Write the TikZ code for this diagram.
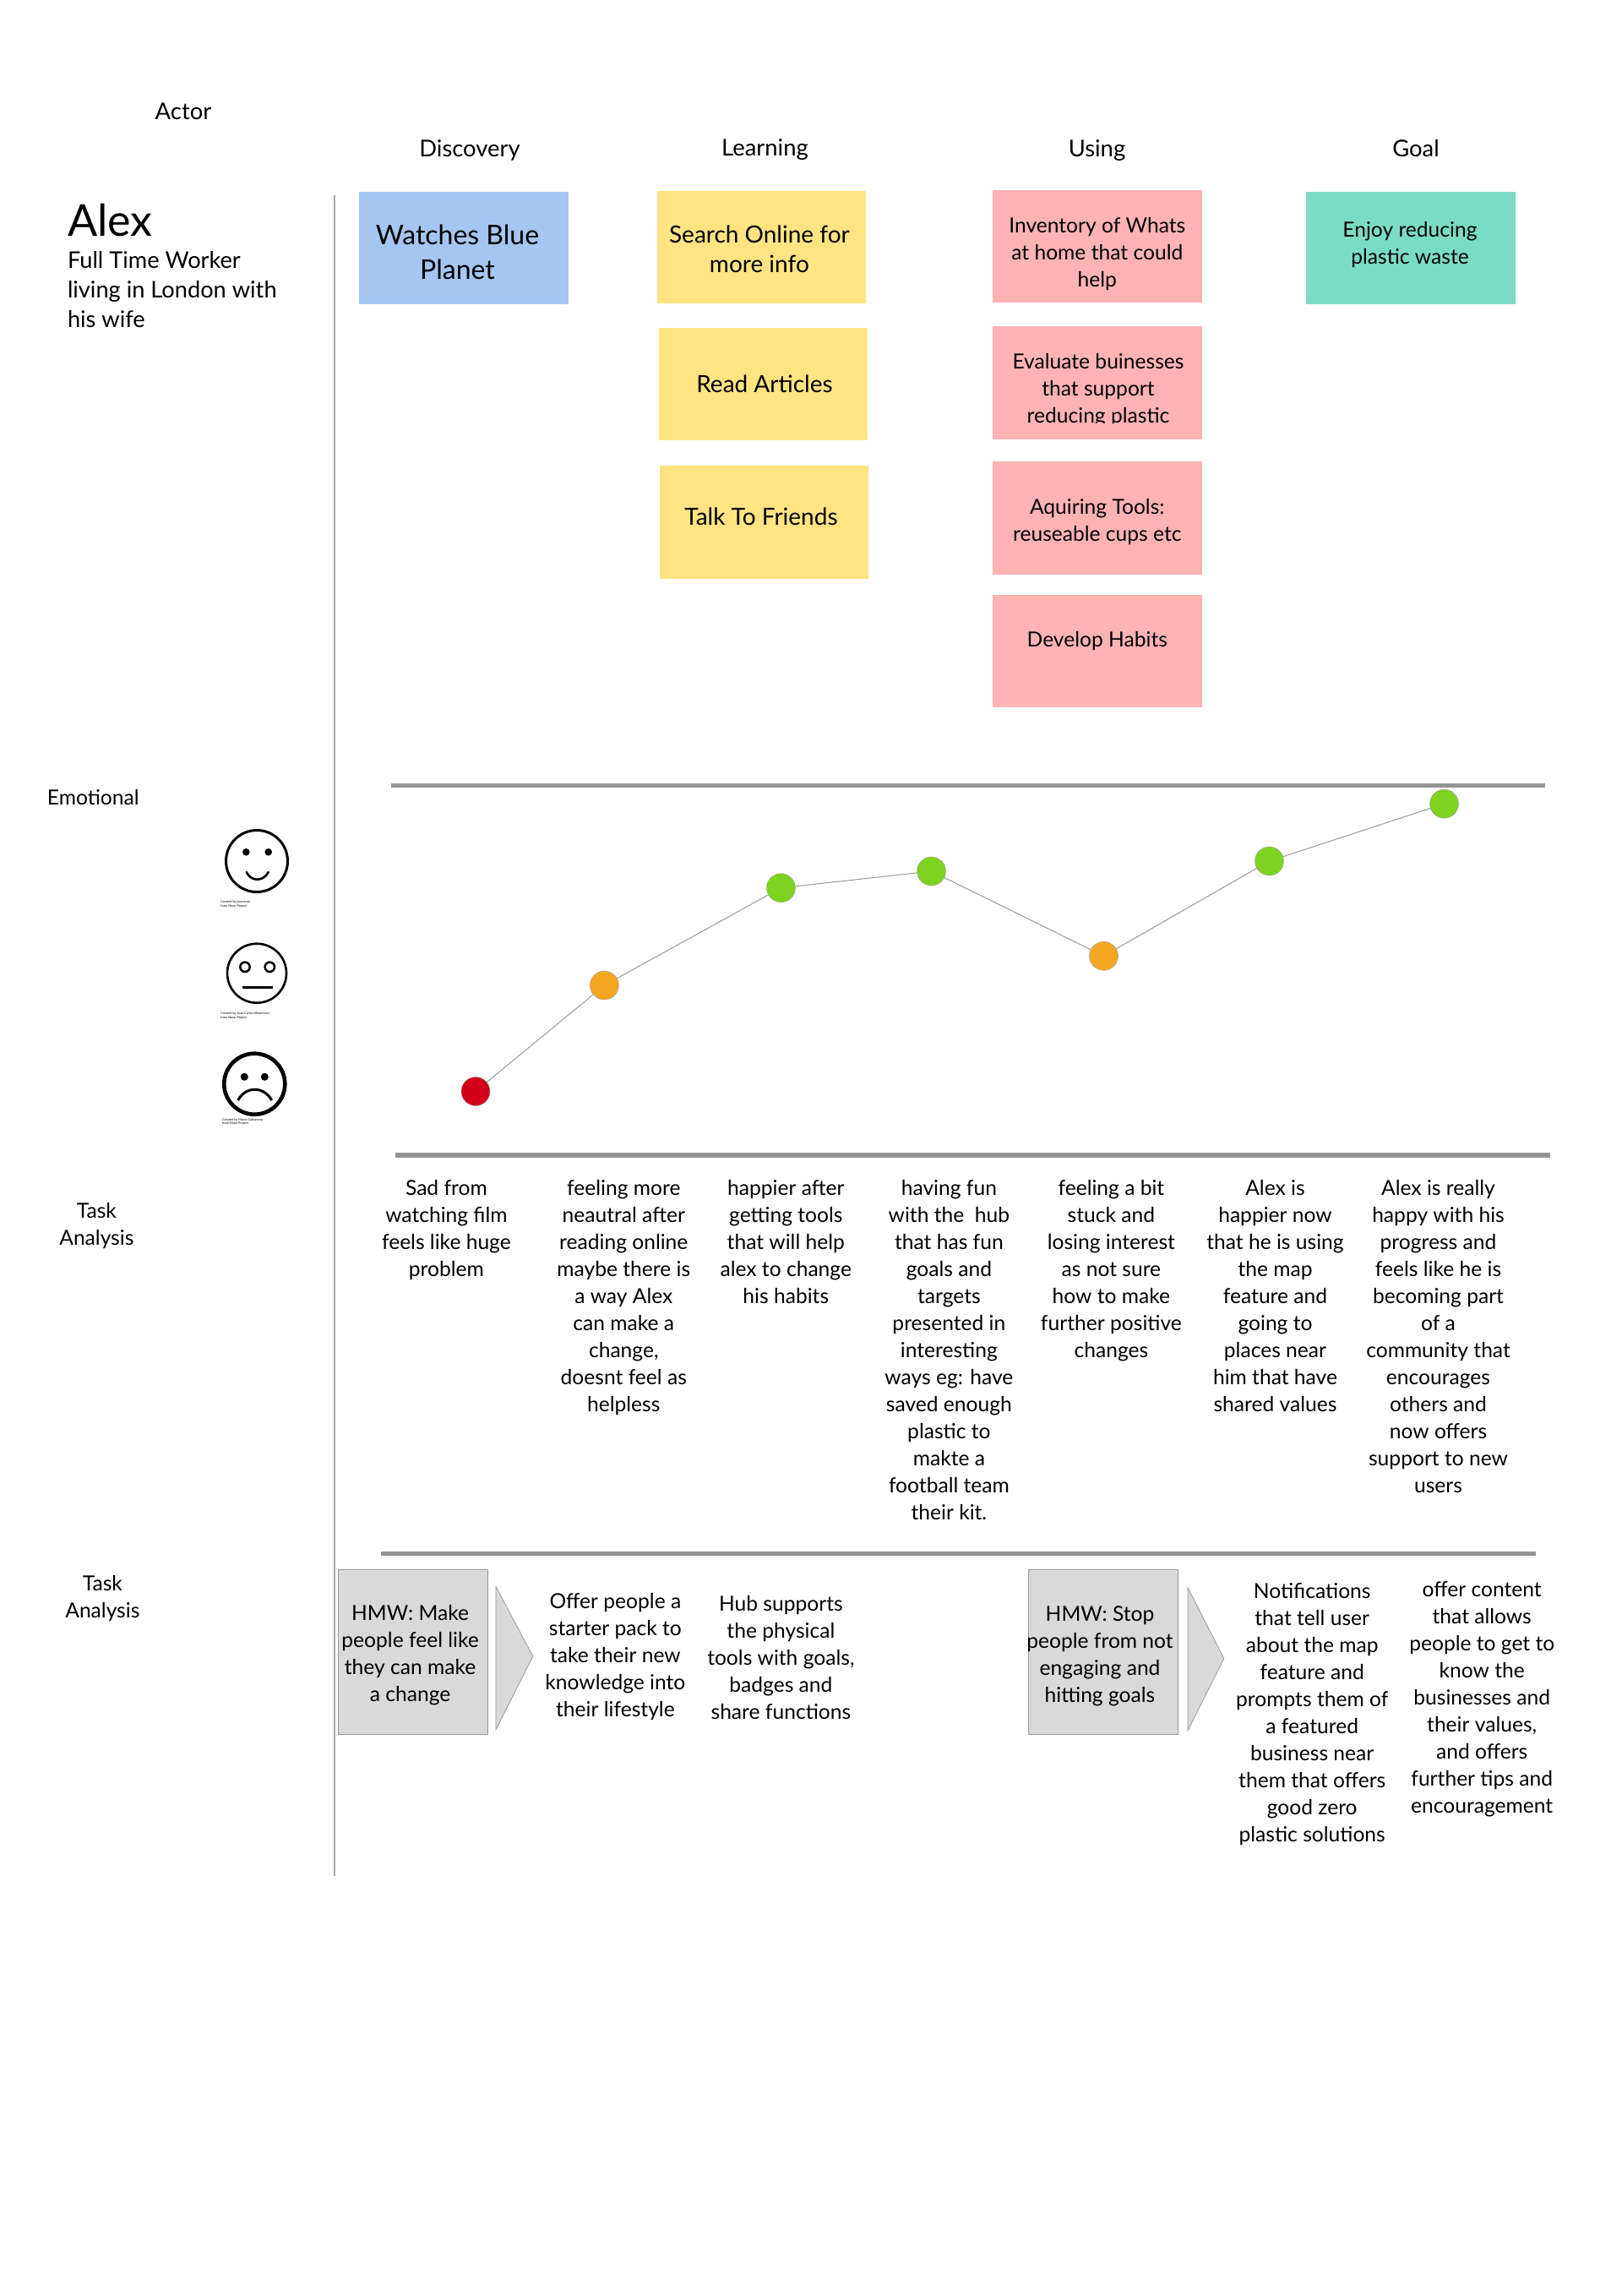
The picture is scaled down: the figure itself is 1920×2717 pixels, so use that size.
\documentclass[tikz,border=0pt]{standalone}
\usepackage{fontspec}
\setmainfont{Lato}
\definecolor{cardblue}{HTML}{A4C6F1}
\definecolor{cardyellow}{HTML}{FFE481}
\definecolor{cardpink}{HTML}{FFB3B3}
\definecolor{cardteal}{HTML}{7ADCC4}
\definecolor{dotred}{HTML}{D0021B}
\definecolor{dotorange}{HTML}{F5A623}
\definecolor{dotgreen}{HTML}{7ED321}
\tikzset{
	card/.style = {minimum width = 123.7pt, minimum height = 66.6pt, inner sep = 0pt},
	plain/.style = {align = center, inner sep = 0pt, font = \fontsize{12.3}{16}\selectfont},
	header/.style = {plain, font = \fontsize{13.7}{17}\selectfont},
	yellowtext/.style = {plain, font = \fontsize{14}{17.3}\selectfont},
	notes/.style = {plain, anchor = north},
	moodline/.style = {draw = black!40, line width = 0.5pt},
	moodpoint/.style = {circle, draw = black!40, line width = 0.2pt, minimum size = 17pt, inner sep = 0pt},
	rulerline/.style = {draw = black!42, line width = 2.6pt},
	face/.style = {circle, draw = black, inner sep = 0pt},
	hmwbox/.style = {draw = black!40, fill = black!15, line width = 0.5pt, minimum width = 88.5pt, minimum height = 97.5pt, inner sep = 0pt},
	chevron/.style = {draw = black!40, fill = black!15, line width = 0.4pt},
	credit/.style = {anchor = north west, align = left, inner sep = 0pt, font = \fontsize{1.9}{2.1}\selectfont}
}

\begin{document}
\begin{tikzpicture}[x = 0.5pt, y = -0.5pt]
	\useasboundingbox (0, 0) rectangle (1920, 2717);
	% headers
	\node[header] (actor) at (217, 131.5) {Actor};
	\node[header] (discovery) at (556, 177.5) {Discovery};
	\node[header] (learning) at (905.5, 177.5) {Learning};
	\node[header] (using) at (1298.5, 178.5) {Using};
	\node[header] (goal) at (1676, 175.5) {Goal};
	% persona
	\node[plain, anchor = west, font = \fontsize{26}{30}\selectfont] (alex) at (79.6, 260.5) {Alex};
	\node[plain, anchor = north west, align = left, font = \fontsize{13.6}{17.3}\selectfont] (persona) at (79.6, 297.5) {Full Time Worker\\living in London with\\his wife};
	% stages
	\draw[draw = black!35, line width = 0.8pt] (396, 231) -- (396, 2220);
	\node[card, fill = cardblue] (watches) at (548.8, 293.5) {};
	\node[plain, font = \fontsize{16}{20.8}\selectfont] (watches-text) at (541.5, 298.5) {Watches Blue\\Planet};
	\foreach \name/\x/\y/\tx/\ty/\label in {
		search/901.5/292.5/898.9/294.5/{Search Online for\\more info},
		articles/903.5/454.7/905/454.7/{Read Articles},
		friends/904.5/618/901/611.5/{Talk To Friends}}
	{
		\node[card, fill = cardyellow] (\name) at (\x, \y) {};
		\node[yellowtext] (\name-text) at (\tx, \ty) {\label};
	}
	\foreach \name/\y/\ty/\label in {
		whats/291.7/300.5/{Inventory of Whats\\at home that could\\help},
		tools/612.9/617.5/{Aquiring Tools:\\reuseable cups etc},
		habits/770.1/759/{Develop Habits}}
	{
		\node[card, fill = cardpink] (\name) at (1298.8, \y) {};
		\node[plain] (\name-text) at (1298.8, \ty) {\label};
	}
	\node[card, fill = cardpink] (evaluate) at (1298.8, 453) {};
	\begin{scope}
		\clip (1175, 387) rectangle (1423, 501);
		\node[plain] (evaluate-text) at (1300, 461.5) {Evaluate buinesses\\that support\\reducing plastic};
	\end{scope}
	\node[card, fill = cardteal] (enjoy) at (1670, 293.5) {};
	\node[plain] (enjoy-text) at (1669, 289.5) {Enjoy reducing\\plastic waste};
	% emotional curve
	\node[plain, anchor = west] (emotional) at (55.5, 944) {Emotional};
	\draw[rulerline] (462.7, 929.4) -- (1829, 929.4);
	\draw[rulerline] (467.7, 1367) -- (1835, 1367);
	\foreach \name/\x/\y/\col in {
		sad/563/1291.5/dotred,
		neutral/715.4/1166/dotorange,
		after/924.4/1050.7/dotgreen,
		fun/1102.5/1031/dotgreen,
		stuck/1306.5/1131.3/dotorange,
		happier/1502.5/1019/dotgreen,
		happy/1709.5/951.2/dotgreen}
		\node[moodpoint, fill = \col] (\name) at (\x, \y) {};
	\foreach \from/\to in {sad/neutral, neutral/after, after/fun, fun/stuck, stuck/happier, happier/happy}
		\draw[moodline] (\from) -- (\to);
	% faces
	\node[face, line width = 1.5pt, minimum size = 36.5pt] (smile) at (304, 1019) {};
	\fill (291.3, 1008.3) circle (4.3) (317.7, 1008.3) circle (4.3);
	\draw[line width = 1.3pt, line cap = round] (291.7, 1032) .. controls (297, 1043.6) and (312, 1043.6) .. (317.7, 1032);
	\node[credit] (smile-credit) at (261, 1065.7) {Created by joeartcon\\from Noun Project};
	\node[face, line width = 1.3pt, minimum size = 35pt] (flat) at (304, 1151.7) {};
	\draw[line width = 1.25pt] (290, 1144.3) circle (5.7) (319.3, 1144.3) circle (5.7);
	\draw[line width = 1.6pt] (286.7, 1168.3) -- (322.7, 1168.3);
	\node[credit] (flat-credit) at (261, 1197.7) {Created by Juan Carlos Altamirano\\from Noun Project};
	\node[face, line width = 2.3pt, minimum size = 36pt] (frown) at (301.3, 1282.7) {};
	\fill (289.3, 1274.3) circle (4.5) (313.3, 1274.3) circle (4.5);
	\draw[line width = 1.5pt] (281.7, 1302) .. controls (291, 1285) and (312, 1285) .. (321.7, 1302);
	\node[credit] (frown-credit) at (262.7, 1323) {Created by Marco Galtarossa\\from Noun Project};
	% task notes
	\node[plain] (task-notes) at (114.4, 1450.5) {Task\\Analysis};
	\foreach \name/\x/\label in {
		ta/528.4/{Sad from\\watching film\\feels like huge\\problem},
		tb/738.3/{feeling more\\neautral after\\reading online\\maybe there is\\a way Alex\\can make a\\change,\\doesnt feel as\\helpless},
		tc/930.3/{happier after\\getting tools\\that will help\\alex to change\\his habits},
		td/1123.4/{having fun\\with the\ \ hub\\that has fun\\goals and\\targets\\presented in\\interesting\\ways eg: have\\saved enough\\plastic to\\makte a\\football team\\their kit.},
		te/1315.4/{feeling a bit\\stuck and\\losing interest\\as not sure\\how to make\\further positive\\changes},
		tf/1509.5/{Alex is\\happier now\\that he is using\\the map\\feature and\\going to\\places near\\him that have\\shared values},
		tg/1702.5/{Alex is really\\happy with his\\progress and\\feels like he is\\becoming part\\of a\\community that\\encourages\\others and\\now offers\\support to new\\users}}
		\node[notes] (\name) at (\x, 1396) {\label};
	% opportunities
	\draw[rulerline] (450.7, 1838.8) -- (1818, 1838.8);
	\node[plain] (task-ideas) at (121.4, 1892) {Task\\Analysis};
	\node[hmwbox] (hmwa) at (488.6, 1954.7) {};
	\node[plain] (hmwa-text) at (485.6, 1959) {HMW: Make\\people feel like\\they can make\\a change};
	\draw[chevron] (587, 1877.6) -- (630.8, 1960) -- (587, 2046.8) -- cycle;
	\node[notes] (offer) at (728.4, 1884.6) {Offer people a\\starter pack to\\take their new\\knowledge into\\their lifestyle};
	\node[notes] (hub) at (924.4, 1888) {Hub supports\\the physical\\tools with goals,\\badges and\\share functions};
	\node[hmwbox] (hmwb) at (1306, 1955.2) {};
	\node[plain] (hmwb-text) at (1302, 1959.4) {HMW: Stop\\people from not\\engaging and\\hitting goals};
	\draw[chevron] (1406, 1878.6) -- (1448.8, 1962.7) -- (1406, 2047.8) -- cycle;
	\node[notes] (notify) at (1553.2, 1873) {Notifications\\that tell user\\about the map\\feature and\\prompts them of\\a featured\\business near\\them that offers\\good zero\\plastic solutions};
	\node[notes] (content) at (1754.2, 1871) {offer content\\that allows\\people to get to\\know the\\businesses and\\their values,\\and offers\\further tips and\\encouragement};
\end{tikzpicture}
\end{document}
